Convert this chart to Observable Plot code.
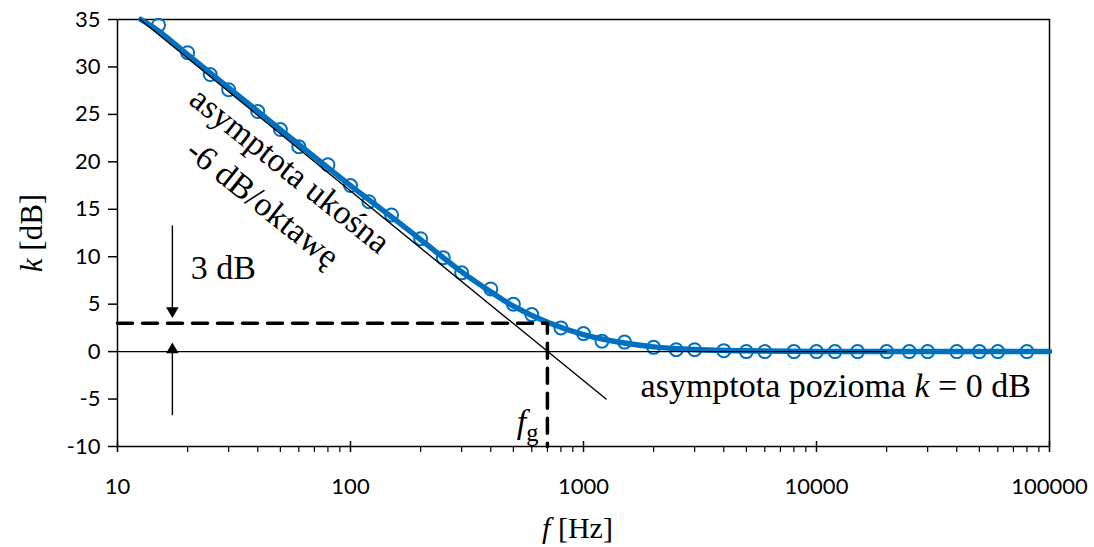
<!DOCTYPE html>
<html>
<head>
<meta charset="utf-8">
<script src="https://cdn.jsdelivr.net/npm/d3@7"></script>
<script src="https://cdn.jsdelivr.net/npm/@observablehq/plot@0.6"></script>
<style>
  html, body { margin: 0; padding: 0; background: #fff; }
  #chart svg { display: block; }
</style>
</head>
<body>
<div id="chart"></div>
<script>
// Measured points (circles)
const freqs = [15, 20, 25, 30, 40, 50, 60, 80, 100, 120, 150, 200, 250, 300, 400, 500, 600, 800,
  1000, 1200, 1500, 2000, 2500, 3000, 4000, 5000, 6000, 8000, 10000, 12000, 15000, 20000,
  25000, 30000, 40000, 50000, 60000, 80000];
const gains = [34.4, 31.5, 29.2, 27.6, 25.3, 23.4, 21.6, 19.7, 17.5, 15.8, 14.4, 11.9, 9.9, 8.3,
  6.6, 5.0, 3.9, 2.5, 1.9, 1.1, 1.0, 0.45, 0.2, 0.2, 0.1, 0, 0, 0, 0, 0, 0, 0, 0, 0, 0, 0, 0, 0];

// Smooth blue characteristic
const curveF = [12.6, 15, 20, 30, 50, 100, 150, 200, 300, 400, 500, 700, 1000, 1500, 2000, 3000, 5000, 10000, 100000];
const curveK = [35, 33.8, 31.3, 27.8, 23.4, 17.5, 14.2, 11.8, 8.4, 6.3, 4.8, 3.1, 1.8, 0.9, 0.5, 0.22, 0.08, 0.02, 0];

// Asymptotes
const slopeF = [12.5, 1250];
const slopeK = [35, -5];
const flatF = [10, 20000];
const flatK = [0, 0];

// 3 dB cutoff
const fg = 700;
const cutK = 3;

// Axes
const xMajor = [10, 100, 1000, 10000, 100000];
const xMinor = [2,3,4,5,6,7,8,9].flatMap(m => [10, 100, 1000, 10000].map(d => m * d));
const yTicks = [-10, -5, 0, 5, 10, 15, 20, 25, 30, 35];

// Annotations
const arrowX = [17.2, 17.2];
const arrowFrom = [13.3, -6.7];
const arrowTo = [4.3, 0.2];

const points = freqs.map((f, i) => ({f, k: gains[i]}));
const curve = curveF.map((f, i) => ({f, k: curveK[i]}));
const slope = slopeF.map((f, i) => ({f, k: slopeK[i]}));
const flat = flatF.map((f, i) => ({f, k: flatK[i]}));
const arrows = arrowX.map((x, i) => ({x, y1: arrowFrom[i], y2: arrowTo[i]}));

const BLUE = "#0070C0";
const SERIF = "'Liberation Serif', 'Times New Roman', serif";
const SANS = "Lato, 'Liberation Sans', sans-serif";

const chart = Plot.plot({
  width: 1094,
  height: 547,
  marginLeft: 117,
  marginRight: 45,
  marginTop: 19,
  marginBottom: 101,
  style: {fontFamily: SANS, fontSize: "22px", color: "black", background: "white"},
  x: {type: "log", domain: [10, 100000]},
  y: {domain: [-10, 35]},
  marks: [
    Plot.axisY({ticks: yTicks, tickSize: 9, tickPadding: 8, strokeWidth: 1.5, label: null, fontSize: 22, tickFormat: d => String(d)}),
    Plot.axisX({ticks: xMajor, tickSize: 0, tickPadding: 32, tickFormat: d => String(d), label: null, fontSize: 22}),
    Plot.ruleX(xMajor, {x: d => d, y1: -10, y2: -10, insetTop: -5, insetBottom: -6, stroke: "black", strokeWidth: 1.5}),
    Plot.ruleX(xMinor, {x: d => d, y1: -10, y2: -10, insetTop: 0, insetBottom: -6, stroke: "black", strokeWidth: 1.2}),
    Plot.frame({stroke: "black", strokeWidth: 1.5}),
    // blue characteristic
    Plot.line(curve, {x: "f", y: "k", stroke: BLUE, strokeWidth: 5.5, curve: "catmull-rom"}),
    Plot.dot(points, {x: "f", y: "k", r: 6.5, stroke: BLUE, strokeWidth: 2, fill: "none"}),
    // asymptotes
    Plot.line(flat, {x: "f", y: "k", stroke: "black", strokeWidth: 1.3}),
    Plot.line(slope, {x: "f", y: "k", stroke: "black", strokeWidth: 1.4}),
    // 3 dB construction
    Plot.line([{f: 10, k: cutK}, {f: fg, k: cutK}, {f: fg, k: -10}], {x: "f", y: "k", stroke: "black", strokeWidth: 3.5, strokeDasharray: "15,10"}),
    // arrows
    Plot.link(arrows, {x1: "x", x2: "x", y1: "y1", y2: "y2", stroke: "black", strokeWidth: 1.4}),
    Plot.dot(arrows, {x: "x", y: "y2", symbol: "triangle2", r: 6, fill: "black", stroke: null,
      rotate: d => d.y2 < d.y1 ? 180 : 0}),
    // texts
    Plot.text(["asymptota ukośna"], {x: 55, y: 19.1, rotate: 38.5, fontFamily: SERIF, fontSize: 34, textAnchor: "middle", lineAnchor: "middle"}),
    Plot.text(["-6 dB/oktawę"], {x: 42, y: 15.6, rotate: 38.5, fontFamily: SERIF, fontSize: 34, textAnchor: "middle", lineAnchor: "middle"}),
    Plot.text(["3 dB"], {x: 20.6, y: 8.8, fontFamily: SERIF, fontSize: 34, textAnchor: "start", lineAnchor: "middle"}),
    Plot.text(["asymptota pozioma *k* = 0 dB"], {x: 1758, y: -3.6, fontFamily: SERIF, fontSize: 34, textAnchor: "start", lineAnchor: "middle"}),
    Plot.text(["*f*_{g}"], {x: fg, y: -7.4, dx: -9, fontFamily: SERIF, fontSize: 34, textAnchor: "end", lineAnchor: "middle"}),
    Plot.text(["*k* [dB]"], {frameAnchor: "left", dx: -85, rotate: -90, fontFamily: SERIF, fontSize: 31, textAnchor: "middle", lineAnchor: "middle"}),
    Plot.text(["*f* [Hz]"], {frameAnchor: "bottom", dx: -6, dy: 82, fontFamily: SERIF, fontSize: 30, textAnchor: "middle", lineAnchor: "middle"})
  ]
});

// Rich text: *italic* and _{subscript}
const NS = "http://www.w3.org/2000/svg";
chart.querySelectorAll("text").forEach(t => {
  const s = t.textContent;
  if (t.children.length || !/[*]|_\{/.test(s)) return;
  t.textContent = "";
  const re = /\*([^*]+)\*|_\{([^}]+)\}|([^*_]+)/g;
  let m, sub = false;
  while ((m = re.exec(s))) {
    const ts = document.createElementNS(NS, "tspan");
    if (m[1] !== undefined) { ts.textContent = m[1]; ts.setAttribute("font-style", "italic"); }
    else if (m[2] !== undefined) { ts.textContent = m[2]; ts.setAttribute("font-size", "0.72em"); ts.setAttribute("dy", "0.35em"); sub = true; }
    else { ts.textContent = m[3]; if (sub) { ts.setAttribute("dy", "-0.25em"); sub = false; } }
    t.appendChild(ts);
  }
});

document.getElementById("chart").appendChild(chart);
</script>
</body>
</html>
